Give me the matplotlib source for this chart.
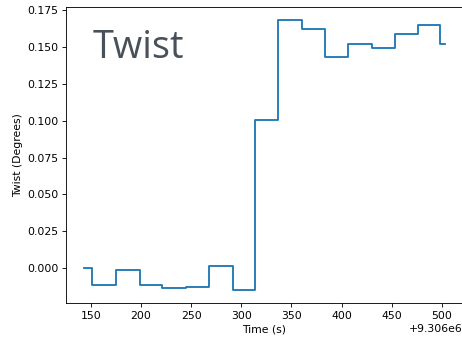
import numpy as np
import matplotlib
matplotlib.use("Agg")
import matplotlib.pyplot as plt

# ------------ DATA ------------

OFFSET = 9.306e6

# times (s, relative to offset) where the twist level changes
step_times = [143.4, 151.7, 175.2, 198.7, 221.3, 245.0, 268.3, 291.8,
              313.3, 336.5, 360.7, 383.9, 406.8, 430.0, 452.9, 475.7,
              498.2, 502.9]

# twist level held from each step time to the next (degrees)
step_values = [0.0, -0.0115, -0.0010, -0.0115, -0.0136, -0.0127, 0.0011,
               -0.0146, 0.1005, 0.1682, 0.1625, 0.1435, 0.1519, 0.1494,
               0.1587, 0.1648, 0.1525, 0.1525]

# ------------ PLOT ------------

DPI = 78
fig = plt.figure(figsize=(462 / DPI, 338 / DPI), dpi=DPI)
ax = fig.add_axes([66 / 462, 35 / 338, 397 / 462, 296 / 338])

t = OFFSET + np.array(step_times)
ax.plot(t, step_values, drawstyle="steps-post", color="#1f77b4", lw=1.7)

ax.set_xlabel("Time (s)")
ax.set_ylabel("Twist (Degrees)")
ax.set_xticks(OFFSET + np.arange(150, 501, 50))
ax.set_yticks(np.arange(0.0, 0.176, 0.025))

# big slide-style label in the upper left
fig.text(93 / 462, 1 - 58.5 / 338, "Twist", fontsize=35, color="#48515a",
         family=["Open Sans", "DejaVu Sans"])

fig.savefig("out.png", dpi=DPI)
